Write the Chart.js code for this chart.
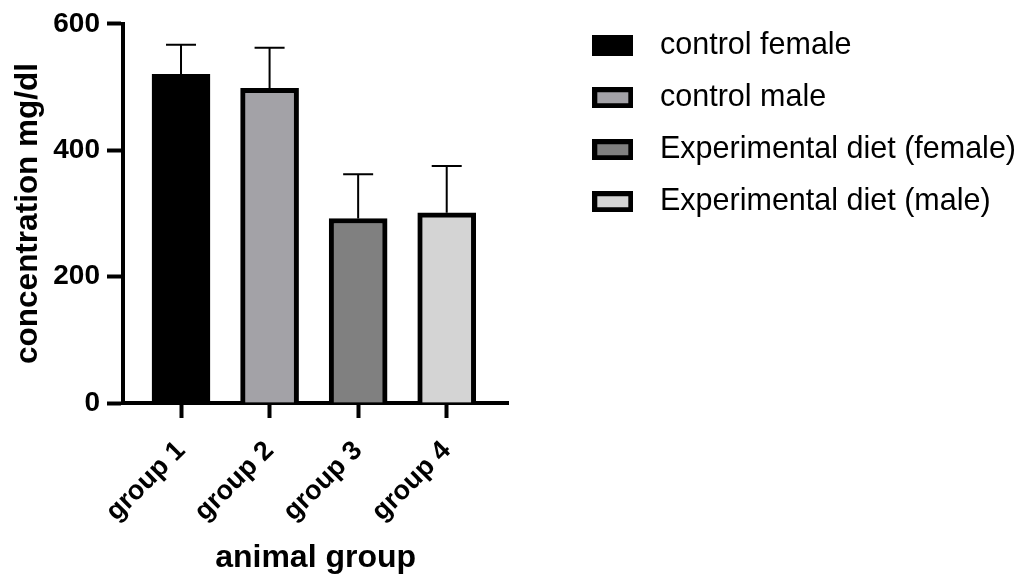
<!DOCTYPE html>
<html>
<head>
<meta charset="utf-8">
<script src="https://cdn.jsdelivr.net/npm/chart.js@4.4.1/dist/chart.umd.min.js"></script>
<style>
  html, body { margin: 0; padding: 0; background: #fff; }
  #wrap { width: 1025px; height: 585px; }
</style>
</head>
<body>
<div id="wrap"><canvas id="chart"></canvas></div>
<script>
// values
const categories = ['group 1', 'group 2', 'group 3', 'group 4'];
const seriesNames = ['control female', 'control male', 'Experimental diet (female)', 'Experimental diet (male)'];
const means = [520, 498, 292, 301];
const errors = [47, 64, 70, 74];
const fills = ['#000000', '#a3a2a7', '#808080', '#d4d4d4'];
const yTicks = [0, 200, 400, 600];

const FONT = "'Liberation Sans', Arial, sans-serif";

// legend swatch: filled box with a thick black outline
function swatch(color) {
  const c = document.createElement('canvas');
  c.width = 41; c.height = 21;
  const g = c.getContext('2d');
  g.fillStyle = color;
  g.fillRect(0, 0, 41, 21);
  g.strokeStyle = '#000';
  g.lineWidth = 5;
  g.strokeRect(2.5, 2.5, 36, 16);
  return c;
}

const errorBars = {
  id: 'errorBars',
  afterDatasetsDraw(chart) {
    const { ctx } = chart;
    const y = chart.scales.y;
    ctx.save();
    ctx.strokeStyle = '#000';
    ctx.lineWidth = 2;
    chart.data.datasets.forEach((ds, i) => {
      const bar = chart.getDatasetMeta(i).data[0];
      const top = y.getPixelForValue(means[i] + errors[i]);
      ctx.beginPath();
      ctx.moveTo(bar.x, bar.y);
      ctx.lineTo(bar.x, top);
      ctx.moveTo(bar.x - 15, top);
      ctx.lineTo(bar.x + 15, top);
      ctx.stroke();
    });
    ctx.restore();
  }
};

new Chart(document.getElementById('chart'), {
  type: 'bar',
  data: {
    datasets: categories.map((c, i) => ({
      label: seriesNames[i],
      data: [{ x: i + 1, y: means[i] }],
      backgroundColor: fills[i],
      borderColor: '#000',
      borderWidth: 5,
      barThickness: 58,
      grouped: false,
      xAxisID: 'x',
      yAxisID: 'y',
    })),
  },
  options: {
    responsive: true,
    maintainAspectRatio: false,
    animation: false,
    layout: { padding: { top: 9, right: -1, bottom: 0, left: 0 } },
    plugins: {
      tooltip: { enabled: false },
      legend: {
        position: 'right',
        align: 'start',
        maxWidth: 480,
        labels: {
          usePointStyle: true,
          pointStyleWidth: 64,
          padding: 21.5,
          color: '#000',
          font: { family: FONT, size: 30.5 },
          generateLabels: (chart) => chart.data.datasets.map((ds, i) => ({
            text: ds.label,
            pointStyle: swatch(fills[i]),
            fillStyle: fills[i],
            strokeStyle: '#000',
            lineWidth: 0,
            hidden: false,
            datasetIndex: i,
          })),
        },
      },
    },
    scales: {
      x: {
        type: 'linear',
        position: 'bottom',
        min: 0.345,
        max: 4.695,
        offset: false,
        z: 1,
        afterBuildTicks: (s) => { s.ticks = categories.map((c, i) => ({ value: i + 1 })); },
        afterFit: (s) => { s.height = 182; },
        grid: { offset: false, drawOnChartArea: false, drawTicks: true, tickLength: 15, tickWidth: 4, tickColor: '#000' },
        border: { display: true, color: '#000', width: 4 },
        ticks: {
          autoSkip: false,
          minRotation: 45,
          maxRotation: 45,
          padding: 17,
          color: '#000',
          font: { family: FONT, size: 27, weight: 'bold' },
          callback: (v) => categories[v - 1],
        },
        title: {
          display: true,
          text: 'animal group',
          color: '#000',
          font: { family: FONT, size: 32, weight: 'bold' },
          padding: { top: 0, bottom: 8 },
        },
      },
      y: {
        min: 0,
        max: 600,
        z: 1,
        afterBuildTicks: (s) => { s.ticks = yTicks.map((v) => ({ value: v })); },
        afterFit: (s) => { s.width = 123; },
        grid: { drawOnChartArea: false, drawTicks: true, tickLength: 16, tickWidth: 4, tickColor: '#000' },
        border: { display: true, color: '#000', width: 4 },
        ticks: {
          padding: 7,
          color: '#000',
          font: { family: FONT, size: 28, weight: 'bold' },
        },
        title: {
          display: true,
          text: 'concentration mg/dl',
          color: '#000',
          font: { family: FONT, size: 31.5, weight: 'bold' },
          padding: { top: 9, bottom: 0 },
        },
      },
      // empty boxes that only reserve room, so the plot area lands where it should
      xTop: {
        type: 'linear',
        position: 'top',
        afterFit: (s) => { s.height = 11; },
        grid: { display: false },
        border: { display: false },
        ticks: { display: false },
      },
      yRight: {
        type: 'linear',
        position: 'right',
        afterFit: (s) => { s.width = 51; },
        grid: { display: false },
        border: { display: false },
        ticks: { display: false },
      },
    },
  },
  plugins: [errorBars],
});
</script>
</body>
</html>
